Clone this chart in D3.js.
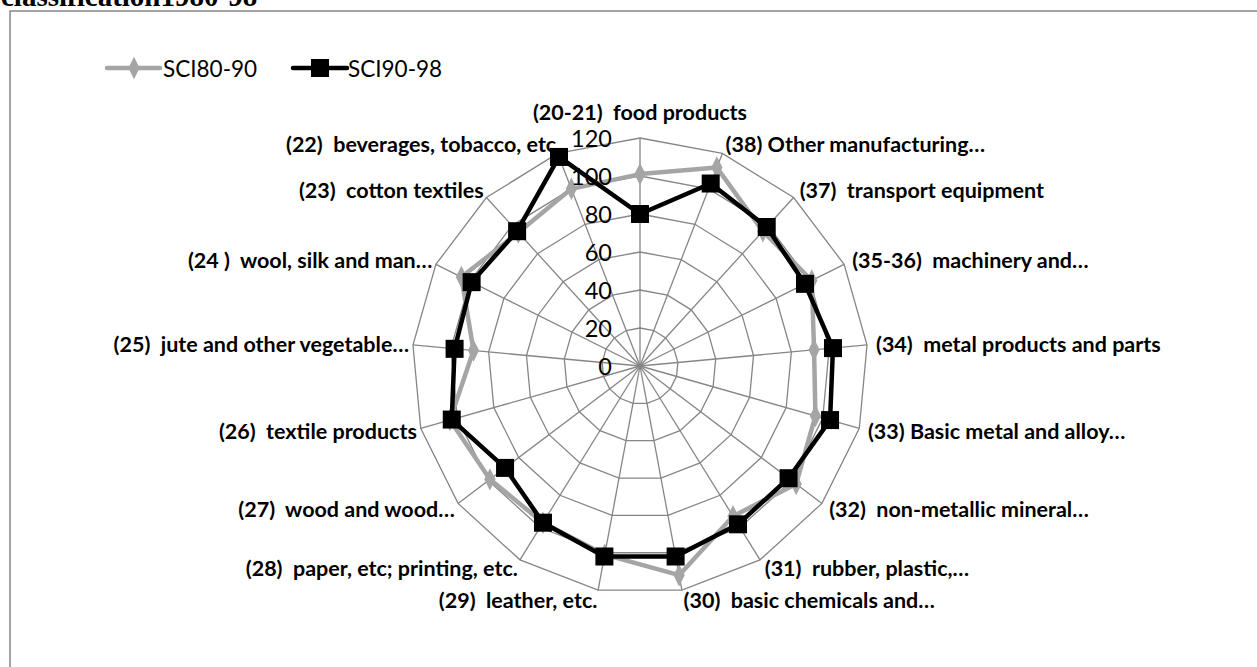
<!DOCTYPE html>
<html>
<head>
<meta charset="utf-8">
<script src="https://cdn.jsdelivr.net/npm/d3@7"></script>
<style>
  html, body { margin: 0; padding: 0; background: #fff; overflow: hidden; }
  svg { display: block; }
  text { white-space: pre; }
</style>
</head>
<body>
<svg id="chart" width="1257" height="667"></svg>
<script>
const categories = [
  "(20-21)  food products",
  "(38) Other manufacturing\u2026",
  "(37)  transport equipment",
  "(35-36)  machinery and\u2026",
  "(34)  metal products and parts",
  "(33) Basic metal and alloy\u2026",
  "(32)  non-metallic mineral\u2026",
  "(31)  rubber, plastic,\u2026",
  "(30)  basic chemicals and\u2026",
  "(29)  leather, etc.",
  "(28)  paper, etc; printing, etc.",
  "(27)  wood and wood\u2026",
  "(26)  textile products",
  "(25)  jute and other vegetable\u2026",
  "(24 )  wool, silk and man\u2026",
  "(23)  cotton textiles",
  "(22)  beverages, tobacco, etc"
];
const sci8090 = [101, 112, 96, 101, 92, 96, 103, 93, 112, 101, 97, 99, 104, 88, 105, 95, 100];
const sci9098 = [80, 103, 99, 97, 102, 104, 98, 98, 102, 102, 97, 89, 103, 98, 99, 96, 118];
const tickValues = [0, 20, 40, 60, 80, 100, 120];
const seriesNames = ["SCI80-90", "SCI90-98"];
const titleText = "classification1980-98";

const svg = d3.select("#chart");
const cx = 640, cy = 366, R = 228;
const gridColor = "#868686";
const grayColor = "#A5A5A5";

// title (cut off at top, as in the reference)
svg.append("text")
  .attr("x", 1).attr("y", 6)
  .attr("font-family", "'Liberation Serif', serif")
  .attr("font-weight", "bold")
  .attr("font-size", 29)
  .attr("fill", "#000")
  .text(titleText);

// frame
svg.append("rect")
  .attr("x", 10).attr("y", 11)
  .attr("width", 1300).attr("height", 700)
  .attr("fill", "none")
  .attr("stroke", gridColor)
  .attr("stroke-width", 1.5);

const r = d3.scaleLinear().domain([0, 120]).range([0, R]);
const angle = d3.scaleLinear().domain([0, categories.length]).range([0, 2 * Math.PI]);

const g = svg.append("g").attr("transform", `translate(${cx},${cy})`);

// rings
const ringLine = d3.lineRadial().curve(d3.curveLinearClosed);
tickValues.filter(t => t > 0).forEach(t => {
  g.append("path")
    .attr("d", ringLine(categories.map((c, i) => [angle(i), r(t)])))
    .attr("fill", "none")
    .attr("stroke", gridColor)
    .attr("stroke-width", 1.3);
});
// spokes
categories.forEach((c, i) => {
  const a = angle(i);
  g.append("line")
    .attr("x1", 0).attr("y1", 0)
    .attr("x2", r(120) * Math.sin(a)).attr("y2", -r(120) * Math.cos(a))
    .attr("stroke", gridColor)
    .attr("stroke-width", 1.3);
});

// series
const seriesLine = d3.lineRadial()
  .angle((d, i) => angle(i))
  .radius(d => r(d))
  .curve(d3.curveLinearClosed);

g.append("path")
  .attr("d", seriesLine(sci8090))
  .attr("fill", "none")
  .attr("stroke", grayColor)
  .attr("stroke-width", 4.5)
  .attr("stroke-linejoin", "round");
const diamond = d3.symbol().type(d3.symbolDiamond).size(110);
sci8090.forEach((v, i) => {
  const a = angle(i);
  g.append("path")
    .attr("d", diamond())
    .attr("transform", `translate(${r(v) * Math.sin(a)},${-r(v) * Math.cos(a)}) scale(1,1.15)`)
    .attr("fill", grayColor);
});

g.append("path")
  .attr("d", seriesLine(sci9098))
  .attr("fill", "none")
  .attr("stroke", "#000")
  .attr("stroke-width", 4.5)
  .attr("stroke-linejoin", "round");
sci9098.forEach((v, i) => {
  const a = angle(i);
  g.append("rect")
    .attr("x", r(v) * Math.sin(a) - 9)
    .attr("y", -r(v) * Math.cos(a) - 9)
    .attr("width", 18).attr("height", 18)
    .attr("fill", "#000");
});

// tick labels
tickValues.forEach(t => {
  g.append("text")
    .attr("x", -28).attr("y", -r(t))
    .attr("text-anchor", "end")
    .attr("dominant-baseline", "central")
    .attr("font-family", "Lato, sans-serif")
    .attr("font-size", 23.5)
    .attr("fill", "#000")
    .text(t);
});

// category labels
categories.forEach((c, i) => {
  const a = angle(i);
  const s = Math.sin(a), co = Math.cos(a);
  const ex = r(120) * s, ey = -r(120) * co;
  let anchor = "middle";
  if (s > 0.1) anchor = "start"; else if (s < -0.1) anchor = "end";
  const x = ex + (s > 0 ? 9 : 4) * s;
  let y = ey - co * 10;
  if (co > 0.99) y = ey - 26;
  g.append("text")
    .attr("x", x).attr("y", y)
    .attr("text-anchor", anchor)
    .attr("dominant-baseline", "central")
    .attr("font-family", "Lato, sans-serif")
    .attr("font-weight", "bold")
    .attr("font-size", 21.5)
    .attr("fill", "#000")
    .text(c);
});

// legend
const leg = svg.append("g");
const legY = 68;
leg.append("line").attr("x1", 107).attr("x2", 160).attr("y1", legY).attr("y2", legY)
  .attr("stroke", grayColor).attr("stroke-width", 4.5).attr("stroke-linecap", "round");
leg.append("path").attr("d", diamond())
  .attr("transform", `translate(134,${legY}) scale(1,1.15)`).attr("fill", grayColor);
leg.append("text").attr("x", 163).attr("y", legY)
  .attr("dominant-baseline", "central")
  .attr("font-family", "Lato, sans-serif").attr("font-size", 22.5)
  .text(seriesNames[0]);
leg.append("line").attr("x1", 293).attr("x2", 347).attr("y1", legY).attr("y2", legY)
  .attr("stroke", "#000").attr("stroke-width", 4.5).attr("stroke-linecap", "round");
leg.append("rect").attr("x", 311).attr("y", legY - 9).attr("width", 18).attr("height", 18).attr("fill", "#000");
leg.append("text").attr("x", 348).attr("y", legY)
  .attr("dominant-baseline", "central")
  .attr("font-family", "Lato, sans-serif").attr("font-size", 22.5)
  .text(seriesNames[1]);
</script>
</body>
</html>
